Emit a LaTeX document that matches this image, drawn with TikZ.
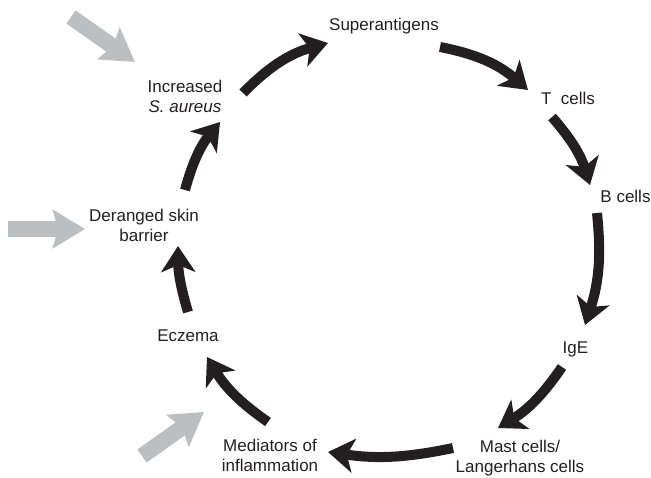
\documentclass[tikz,border=0pt]{standalone}
\usepackage{fontspec}
\setmainfont{Liberation Sans}
\usetikzlibrary{arrows.meta}
\definecolor{txt}{HTML}{231F20}
\definecolor{greyarrow}{HTML}{BCBEC0}
\begin{document}
\begin{tikzpicture}[x=1pt,y=1pt,
  lab/.style={inner sep=0pt, font=\fontsize{17}{20}\selectfont, text=txt, align=center},
  cyc/.style={line width=10pt, draw=txt, -{Stealth[length=26pt,width=34pt,inset=7pt]}},
  feed/.style={line width=16pt, draw=greyarrow, -{Stealth[length=32pt,width=38pt,inset=5pt]}}]
\useasboundingbox (0,0) rectangle (651,477);

% labels
\node[lab, anchor=base] (sup) at (384,446) {Superantigens};
\node[lab, anchor=base] (tc) at (568,372) {T\ \ cells};
\node[lab, anchor=base] (bc) at (625.5,274) {B cells};
\node[lab, anchor=base] (ige) at (575.5,123) {IgE};
\node[lab] (mast) at (520,19) {Mast cells/\\Langerhans cells};
\node[lab] (med) at (270,22) {Mediators of\\inflammation};
\node[lab, anchor=base] (ecz) at (188,135) {Eczema};
\node[lab] (der) at (144,252) {Deranged skin\\barrier};
\node[lab] (inc) at (185,381) {Increased\\\textit{S. aureus}};

% cycle arrow end points
\coordinate (a1s) at (243,384); \coordinate (a1e) at (328,434);
\coordinate (a2s) at (440,430); \coordinate (a2e) at (528,387);
\coordinate (a3s) at (552,360); \coordinate (a3e) at (590,292);
\coordinate (a4s) at (597,264); \coordinate (a4e) at (585,152);
\coordinate (a5s) at (562,110); \coordinate (a5e) at (498,49);
\coordinate (a6s) at (453,29);  \coordinate (a6e) at (328,25);
\coordinate (a7s) at (268,55);  \coordinate (a7e) at (207,120);
\coordinate (a8s) at (188,165); \coordinate (a8e) at (178,231);
\coordinate (a9s) at (185,287); \coordinate (a9e) at (220,355);

\draw[cyc] (a1s) to[bend left=15] (a1e);
\draw[cyc] (a2s) to[bend left=15] (a2e);
\draw[cyc] (a3s) to[bend left=12] (a3e);
\draw[cyc] (a4s) to[bend left=12] (a4e);
\draw[cyc] (a5s) to[bend left=12] (a5e);
\draw[cyc] (a6s) to[bend left=10] (a6e);
\draw[cyc] (a7s) to[bend left=12] (a7e);
\draw[cyc] (a8s) to[bend left=8] (a8e);
\draw[cyc] (a9s) to[bend left=12] (a9e);

% grey input arrows
\coordinate (g1s) at (71,460);  \coordinate (g1e) at (135,415);
\coordinate (g2s) at (8,248);   \coordinate (g2e) at (85,248);
\coordinate (g3s) at (142,21);  \coordinate (g3e) at (204,65);
\draw[feed] (g1s) -- (g1e);
\draw[feed] (g2s) -- (g2e);
\draw[feed] (g3s) -- (g3e);
\end{tikzpicture}
\end{document}
